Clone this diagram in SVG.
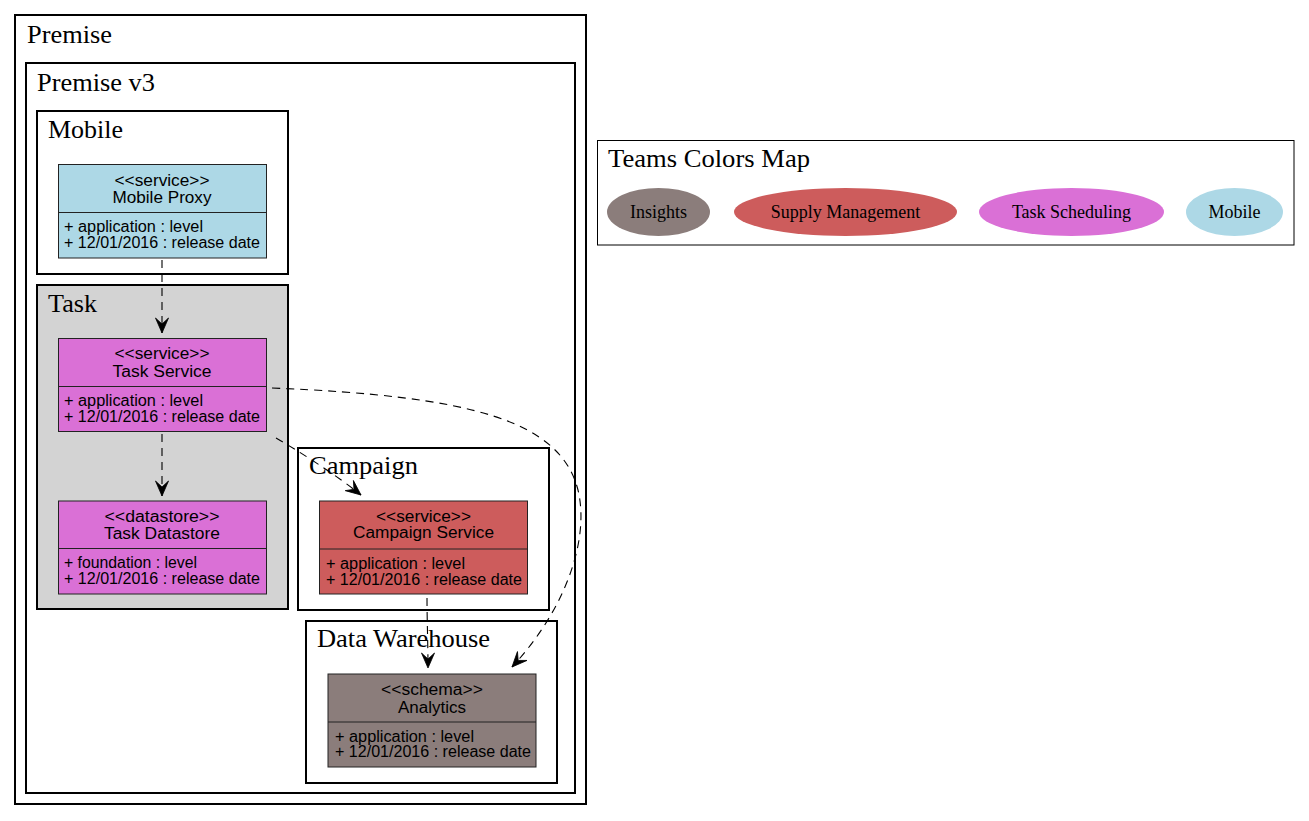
<svg xmlns="http://www.w3.org/2000/svg" width="1309" height="821" viewBox="0 0 1309 821">
<style>
.cl{fill:none;stroke:#000;stroke-width:2}
.clab{font-family:"Liberation Serif","Times New Roman",serif;font-size:26px;fill:#000}
.nd{stroke:#222;stroke-width:1}
.dv{stroke:#222;stroke-width:1.2}
.t{font-family:"Liberation Sans",Arial,sans-serif;font-size:16px;fill:#000}
.c{text-anchor:middle}
.edge{fill:none;stroke:#000;stroke-width:1.1;stroke-dasharray:8,6;marker-end:url(#vee)}
.lg{font-family:"Liberation Serif","Times New Roman",serif;font-size:18px;fill:#000;text-anchor:middle}
</style>
<defs>
<marker id="vee" markerUnits="userSpaceOnUse" markerWidth="18" markerHeight="16" viewBox="-16 -8 17 16" refX="0" refY="0" orient="auto">
<path d="M0,0 L-15,-6.5 L-9,0 L-15,6.5 Z" fill="#000" stroke="#000" stroke-width="0.8"/>
</marker>
</defs>
<rect width="1309" height="821" fill="#fff"/>

<g id="cluster-premise">
<rect class="cl" x="15" y="15" width="571" height="789"/>
<text class="clab" x="27" y="43" textLength="85" lengthAdjust="spacingAndGlyphs">Premise</text>
</g>
<g id="cluster-premise-v3">
<rect class="cl" x="26" y="63" width="549" height="730"/>
<text class="clab" x="37" y="91" textLength="118" lengthAdjust="spacingAndGlyphs">Premise v3</text>
</g>
<g id="cluster-mobile">
<rect class="cl" x="37" y="111" width="251" height="163"/>
<text class="clab" x="48" y="138" textLength="75" lengthAdjust="spacingAndGlyphs">Mobile</text>
</g>
<g id="cluster-task">
<rect x="37" y="285" width="251" height="324" fill="#d3d3d3" stroke="#000" stroke-width="2"/>
<text class="clab" x="48" y="312" textLength="49" lengthAdjust="spacingAndGlyphs">Task</text>
</g>
<g id="cluster-campaign">
<rect class="cl" x="298" y="448" width="251" height="162"/>
<text class="clab" x="309" y="474" textLength="109" lengthAdjust="spacingAndGlyphs">Campaign</text>
</g>
<g id="cluster-data-warehouse">
<rect class="cl" x="306" y="621" width="251" height="162"/>
<text class="clab" x="317" y="647" textLength="173" lengthAdjust="spacingAndGlyphs">Data Warehouse</text>
</g>

<g id="node-mobile-proxy">
<rect class="nd" x="58.5" y="164.5" width="208" height="93.5" fill="#add8e6"/>
<line class="dv" x1="58.5" y1="212.5" x2="266.5" y2="212.5"/>
<text class="t c" x="162" y="186" textLength="95" lengthAdjust="spacingAndGlyphs">&lt;&lt;service&gt;&gt;</text>
<text class="t c" x="162" y="203" textLength="99" lengthAdjust="spacingAndGlyphs">Mobile Proxy</text>
<text class="t" x="64" y="232" textLength="139" lengthAdjust="spacingAndGlyphs">+ application : level</text>
<text class="t" x="64" y="248" textLength="196" lengthAdjust="spacingAndGlyphs">+ 12/01/2016 : release date</text>
</g>

<g id="node-task-service">
<rect class="nd" x="58.5" y="338.5" width="208" height="93" fill="#da70d6"/>
<line class="dv" x1="58.5" y1="386.5" x2="266.5" y2="386.5"/>
<text class="t c" x="162" y="359" textLength="95" lengthAdjust="spacingAndGlyphs">&lt;&lt;service&gt;&gt;</text>
<text class="t c" x="162" y="377" textLength="99" lengthAdjust="spacingAndGlyphs">Task Service</text>
<text class="t" x="64" y="406" textLength="139" lengthAdjust="spacingAndGlyphs">+ application : level</text>
<text class="t" x="64" y="422" textLength="196" lengthAdjust="spacingAndGlyphs">+ 12/01/2016 : release date</text>
</g>

<g id="node-task-datastore">
<rect class="nd" x="58.5" y="501" width="208" height="93" fill="#da70d6"/>
<line class="dv" x1="58.5" y1="548.5" x2="266.5" y2="548.5"/>
<text class="t c" x="162" y="522" textLength="115" lengthAdjust="spacingAndGlyphs">&lt;&lt;datastore&gt;&gt;</text>
<text class="t c" x="162" y="539" textLength="116" lengthAdjust="spacingAndGlyphs">Task Datastore</text>
<text class="t" x="64" y="568" textLength="133" lengthAdjust="spacingAndGlyphs">+ foundation : level</text>
<text class="t" x="64" y="584" textLength="196" lengthAdjust="spacingAndGlyphs">+ 12/01/2016 : release date</text>
</g>

<g id="node-campaign-service">
<rect class="nd" x="319.5" y="501" width="208" height="93" fill="#cd5c5c"/>
<line class="dv" x1="319.5" y1="549" x2="527.5" y2="549"/>
<text class="t c" x="423.5" y="522" textLength="95" lengthAdjust="spacingAndGlyphs">&lt;&lt;service&gt;&gt;</text>
<text class="t c" x="423.5" y="538" textLength="141" lengthAdjust="spacingAndGlyphs">Campaign Service</text>
<text class="t" x="326" y="569" textLength="139" lengthAdjust="spacingAndGlyphs">+ application : level</text>
<text class="t" x="326" y="585" textLength="196" lengthAdjust="spacingAndGlyphs">+ 12/01/2016 : release date</text>
</g>

<g id="node-analytics">
<rect class="nd" x="328" y="674" width="208" height="93" fill="#8b7d7b"/>
<line class="dv" x1="328" y1="722" x2="536" y2="722"/>
<text class="t c" x="432" y="695" textLength="102" lengthAdjust="spacingAndGlyphs">&lt;&lt;schema&gt;&gt;</text>
<text class="t c" x="432" y="713" textLength="68" lengthAdjust="spacingAndGlyphs">Analytics</text>
<text class="t" x="335" y="742" textLength="139" lengthAdjust="spacingAndGlyphs">+ application : level</text>
<text class="t" x="335" y="757" textLength="196" lengthAdjust="spacingAndGlyphs">+ 12/01/2016 : release date</text>
</g>

<g id="connectors">
<path class="edge" d="M162,260 L162,333"/>
<path class="edge" d="M162,434 L162,496"/>
<path class="edge" d="M276,438 C300,452 335,474 361,495"/>
<path class="edge" d="M272,388 C470,396 560,420 578,490 C590,540 565,610 512,667"/>
<path class="edge" d="M427,598 C427,620 428,645 428,668"/>
</g>

<g id="legend">
<rect x="597.5" y="140.5" width="696.5" height="104.5" fill="none" stroke="#000" stroke-width="1"/>
<text class="clab" x="608" y="167" textLength="202" lengthAdjust="spacingAndGlyphs">Teams Colors Map</text>
<g id="legend-insights">
<ellipse cx="658.5" cy="212" rx="51.5" ry="24" fill="#8b7d7b"/>
<text class="lg" x="658.5" y="218">Insights</text>
</g>
<g id="legend-supply-management">
<ellipse cx="845.5" cy="212" rx="111.5" ry="24" fill="#cd5c5c"/>
<text class="lg" x="845.5" y="218">Supply Management</text>
</g>
<g id="legend-task-scheduling">
<ellipse cx="1071.5" cy="212" rx="92.5" ry="24" fill="#da70d6"/>
<text class="lg" x="1071.5" y="218">Task Scheduling</text>
</g>
<g id="legend-mobile">
<ellipse cx="1234.5" cy="212" rx="48.5" ry="24" fill="#add8e6"/>
<text class="lg" x="1234.5" y="218">Mobile</text>
</g>
</g>
</svg>
